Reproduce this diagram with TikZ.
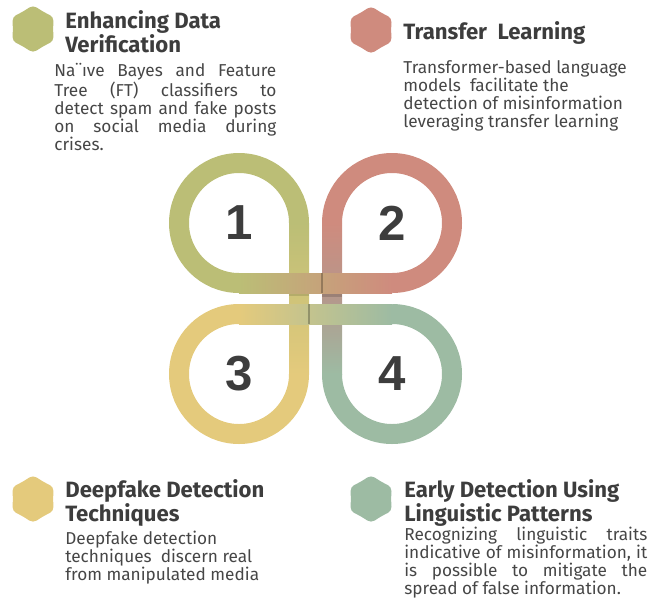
\documentclass[tikz,border=0pt]{standalone}
\usepackage{fontspec}
\setmainfont{Fira Sans}
\newfontfamily\digitfont{Liberation Sans}
\usepackage{tikz}
\usetikzlibrary{shapes.geometric}
\newcommand{\jl}[2]{\makebox[#1][s]{#2}}

\begin{document}
\begin{tikzpicture}[x=0.02cm,y=-0.02cm,
  band/.style={line width=0.4cm},
  num/.style={font=\digitfont\bfseries\fontsize{28}{28}\selectfont, text=txtDark},
  blob/.style={star, star points=6, star point ratio=1.2, minimum size=0.96cm, inner sep=0pt, rounded corners=2.5pt},
  title/.style={anchor=north west, inner sep=0pt, align=left, text=txtDark, font=\bfseries\fontsize{12.6}{12.5}\selectfont},
  body/.style={anchor=north west, inner sep=0pt, align=left, text=txtBody, font=\fontsize{9.8}{10.2}\selectfont}]
\useasboundingbox (0,0) rectangle (659,599);
\definecolor{cOlive}{RGB}{187,190,118}
\definecolor{cRed}{RGB}{207,139,126}
\definecolor{cYellow}{RGB}{228,202,124}
\definecolor{cGreen}{RGB}{157,187,163}
\definecolor{cMauve}{RGB}{180,152,140}
\definecolor{txtDark}{RGB}{61,61,61}
\definecolor{txtBody}{RGB}{70,70,70}
% the four loops
\draw[band, cOlive] (299,223) arc[start angle=0, end angle=-270, radius=60];
\draw[band, cRed] (332,223) arc[start angle=180, end angle=450, radius=60];
\draw[band, cYellow] (299,374) arc[start angle=0, end angle=270, radius=60];
\draw[band, cGreen] (332,374) arc[start angle=180, end angle=-90, radius=60];
% crossing bands
\shade[top color=cOlive, bottom color=cYellow] (289,223) rectangle (309,374);
\shade[top color=cRed, bottom color=cGreen, middle color=cMauve] (322,223) rectangle (342,374);
\fill[black, opacity=0.12] (289,293) rectangle (309,296);
\fill[black, opacity=0.15] (322,293) rectangle (342,297);
\shade[left color=cOlive, right color=cRed] (239,273) rectangle (392,293);
\shade[left color=cYellow, right color=cGreen] (239,304) rectangle (392,324);
\draw[black, opacity=0.25, line width=0.04cm] (322,273) -- (322,293);
\draw[black, opacity=0.25, line width=0.04cm] (309,304) -- (309,324);
% numbers
\foreach \n/\x/\y in {1/239/223, 2/392/223, 3/239/374, 4/392/374}
  \node[num] (num\n) at (\x,\y) {\n};
% star markers
\foreach \n/\x/\y/\c in {1/33/29/cOlive, 2/371/30/cRed, 3/33/499/cYellow, 4/371/499/cGreen}
  \node[blob, fill=\c] (mark\n) at (\x,\y) {};
% texts
\node[title] (title1) at (65,10) {Enhancing Data\\Verification};
\node[body] (body1) at (54,63) {\jl{4.44cm}{Na¨ıve Bayes and Feature}\\
  \jl{4.44cm}{Tree (FT) classifiers to}\\
  \jl{4.44cm}{detect spam and fake posts}\\
  \jl{4.44cm}{on social media during}\\
  crises.};
\node[title] (title2) at (403,21) {Transfer~ Learning};
\node[body] (body2) at (403,60) {Transformer-based language\\
  models~ facilitate the\\
  detection of misinformation\\
  leveraging transfer learning};
\node[title] (title3) at (65,479) {Deepfake Detection\\Techniques};
\node[body] (body3) at (65,531) {Deepfake detection\\
  techniques~ discern real\\
  from manipulated media};
\node[title] (title4) at (404,479) {Early Detection Using\\Linguistic Patterns};
\node[body] (body4) at (404,527) {\jl{4.86cm}{Recognizing linguistic traits}\\
  \jl{4.86cm}{indicative of misinformation, it}\\
  \jl{4.86cm}{is possible to mitigate the}\\
  spread of false information.};
\end{tikzpicture}
\end{document}
